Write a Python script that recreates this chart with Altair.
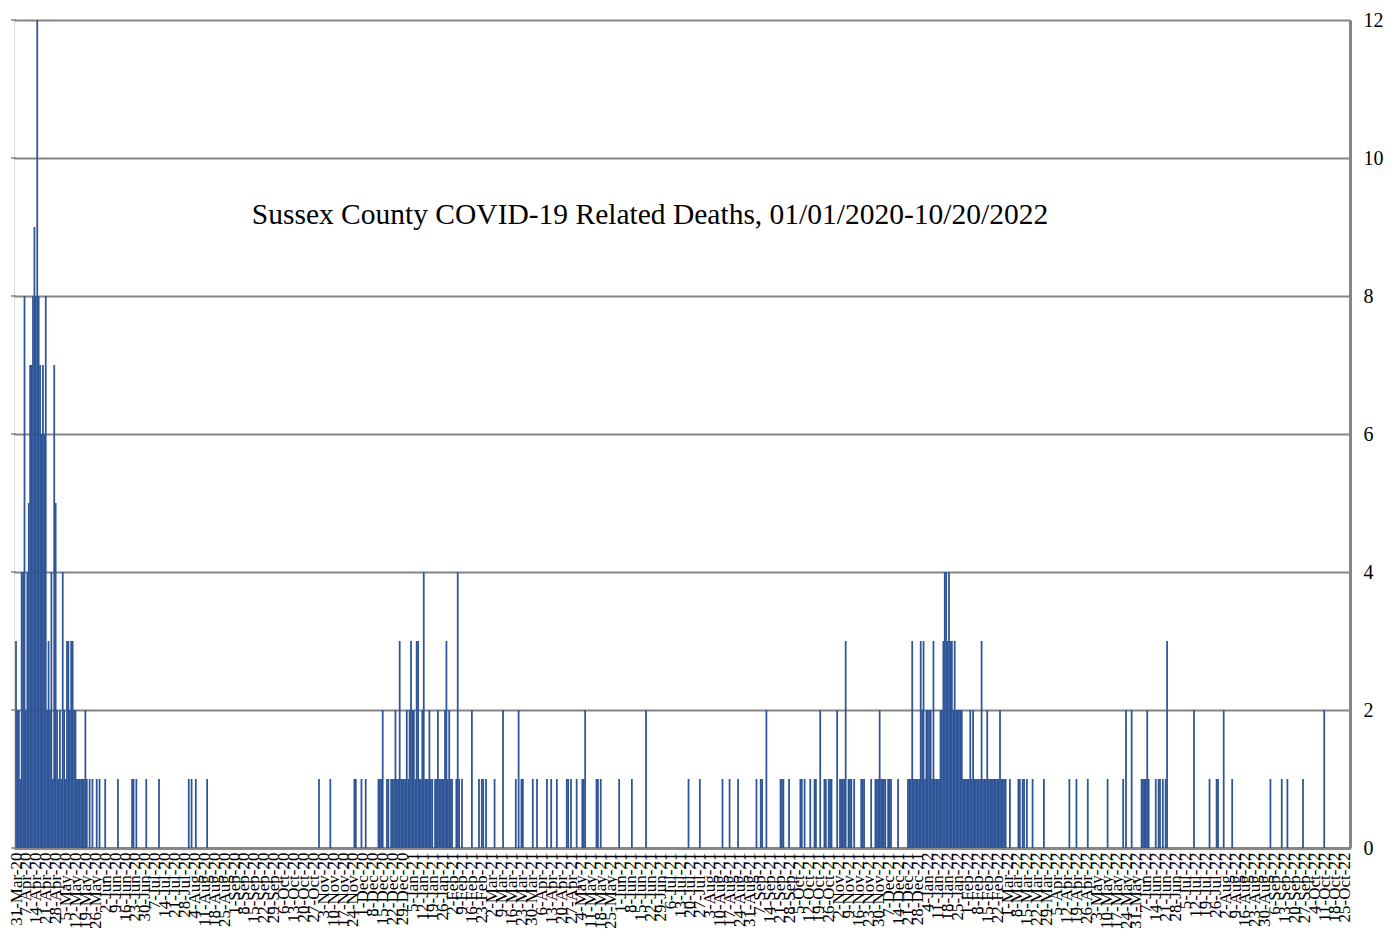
import altair as alt
import pandas as pd

# ---- data (daily deaths) ----
start_date = "2020-03-31"
n_days = 934  # 31-Mar-20 .. 20-Oct-22

# consecutive days starting 31-Mar-20
early_deaths = [3, 2, 2, 1, 4, 4, 8, 2, 4, 5,
                7, 7, 8, 9, 8, 12, 8, 7, 6, 7,
                6, 8, 2, 3, 2, 4, 1, 7, 5, 2,
                1, 2, 1, 4, 2, 1, 3, 3, 2, 3,
                3, 2, 2, 1, 1, 1, 1, 1, 1, 2,
                1, 0, 1, 0, 1, 0, 0, 1, 0, 1,
                0, 0, 0, 1]

# (day offset from 31-Mar-20, deaths) for later non-zero days
later_spikes = [
    (72, 1), (82, 1), (83, 1), (85, 1), (92, 1), (101, 1), (122, 1), (124, 1), (127, 1), (135, 1),
    (214, 1), (222, 1), (239, 1), (240, 1), (244, 1), (247, 1),
    (256, 1), (257, 1), (258, 1), (259, 2), (262, 1), (263, 1), (265, 1), (266, 1), (267, 1), (268, 2),
    (269, 1), (270, 1), (271, 3), (272, 1), (273, 1), (274, 1),
    (275, 1), (276, 2), (277, 1), (278, 2), (279, 3), (280, 2), (281, 2), (282, 1), (283, 3), (284, 3),
    (285, 1), (286, 1), (287, 2), (288, 4), (289, 1), (290, 1), (291, 1), (292, 2), (293, 1), (294, 1),
    (296, 1), (297, 1), (298, 2), (299, 1), (300, 1), (301, 1), (302, 1), (303, 2), (304, 3), (305, 1),
    (306, 2), (307, 1), (308, 1), (311, 1), (312, 4), (313, 1), (315, 1),
    (322, 2), (327, 1), (329, 1), (330, 1), (332, 1), (338, 1), (344, 2),
    (353, 1), (355, 2), (357, 1), (358, 1), (365, 1), (368, 1), (375, 1), (378, 1), (382, 1),
    (389, 1), (390, 1), (392, 1), (396, 1), (400, 1), (401, 1), (402, 2), (410, 1), (411, 1), (413, 1),
    (426, 1), (435, 1), (445, 2), (475, 1), (483, 1), (499, 1), (504, 1), (510, 1), (523, 1),
    (526, 1), (527, 1), (530, 2), (540, 1), (541, 1), (542, 1), (546, 1), (554, 1), (555, 1), (557, 1),
    (561, 1), (564, 1), (565, 1), (568, 2), (571, 1), (572, 1), (574, 1), (575, 1), (576, 1), (580, 2),
    (582, 1), (583, 1), (584, 1), (585, 1), (586, 3), (588, 1), (589, 1), (590, 1), (592, 1),
    (597, 1), (598, 1), (599, 1), (604, 1), (607, 1), (608, 1), (609, 1), (610, 2), (611, 1), (612, 1),
    (613, 1), (614, 1), (616, 1), (617, 1), (618, 1), (623, 1),
    (630, 1), (631, 1), (632, 1), (633, 3), (634, 1), (635, 1), (636, 1), (637, 1), (638, 1), (639, 3),
    (640, 2), (641, 3), (642, 1), (643, 2), (644, 2), (645, 2), (646, 2), (647, 1), (648, 3), (649, 1),
    (650, 1), (651, 1), (652, 1), (653, 2), (654, 2), (655, 3), (656, 4), (657, 4), (658, 3), (659, 4),
    (660, 3), (661, 3), (662, 2), (663, 3), (664, 2), (665, 2), (666, 2), (667, 2), (668, 2), (669, 1),
    (670, 1), (671, 1), (672, 1), (673, 1), (674, 2), (675, 1), (676, 2), (677, 1), (678, 1), (679, 1),
    (680, 1), (681, 1), (682, 3), (683, 1), (684, 1), (685, 1), (686, 2), (687, 1), (688, 1), (689, 1),
    (690, 1), (691, 1), (692, 1), (693, 1), (694, 1), (695, 2), (696, 1), (697, 1), (698, 1), (699, 1),
    (702, 1), (708, 1), (709, 1), (711, 1), (712, 1), (714, 1), (718, 1), (726, 1), (744, 1), (749, 1),
    (757, 1), (771, 1), (782, 1), (784, 2), (788, 2), (795, 1), (796, 1), (797, 1), (798, 1), (799, 2),
    (800, 1), (805, 1), (807, 1), (808, 1), (810, 1), (812, 1), (813, 3), (832, 2), (843, 1), (848, 1),
    (849, 1), (853, 2), (859, 1), (886, 1), (894, 1), (898, 1), (909, 1), (924, 2),
]

y_ticks = [0, 2, 4, 6, 8, 10, 12]
title_text = "Sussex County COVID-19 Related Deaths, 01/01/2020-10/20/2022"

# ---- build table ----
values = [0] * n_days
for i, v in enumerate(early_deaths):
    values[i] = v
for d, v in later_spikes:
    values[d] = v
dates = pd.date_range(start_date, periods=n_days, freq="D")
df = pd.DataFrame({
    "date": dates.strftime("%Y-%m-%d"),
    "start": (dates - pd.Timedelta(hours=15)).strftime("%Y-%m-%dT%H:%M:%SZ"),
    "end": (dates + pd.Timedelta(hours=15)).strftime("%Y-%m-%dT%H:%M:%SZ"),
    "deaths": values,
})
df = df[df["deaths"] > 0]

tick_dates = pd.date_range("2020-03-31", "2022-10-25", freq="7D")
tick_values = [int(t.value // 10**6) for t in tick_dates]
x_domain = [int(pd.Timestamp("2020-03-29 14:00").value // 10**6),
            int(pd.Timestamp("2022-10-29 05:00").value // 10**6)]

GRID = "#868686"
FONT = "Liberation Serif"

y_scale = alt.Scale(domain=[0, 12], nice=False)
y_axis = alt.Axis(orient="right", values=y_ticks, format="d", grid=True,
                  gridColor=GRID, gridWidth=2, domainColor=GRID, domainWidth=3,
                  ticks=False, labelPadding=13, labelFont=FONT, labelFontSize=20,
                  labelColor="black", title=None)

bars = alt.Chart(df).mark_bar(color="#2e5597", orient="vertical").encode(
    x=alt.X("start:T", scale=alt.Scale(type="utc", domain=x_domain, padding=0, nice=False),
            axis=alt.Axis(values=tick_values, format="%-d-%b-%y", labelAngle=270,
                          labelOverlap=False, labelFlush=False, labelBound=False,
                          ticks=False, grid=False, domainColor=GRID, domainWidth=3,
                          labelFont=FONT, labelFontSize=17, labelColor="black",
                          labelPadding=4, title=None)),
    x2="end:T",
    y=alt.Y("deaths:Q", scale=y_scale, axis=y_axis),
    y2=alt.datum(0),
)

left_ticks = alt.Chart(pd.DataFrame({"v": y_ticks})).mark_rule(color=GRID, strokeWidth=1.5).encode(
    y=alt.Y("v:Q", scale=y_scale, axis=y_axis),
    x=alt.value(-3),
    x2=alt.value(2),
)

title = alt.Chart(pd.DataFrame({"t": [title_text]})).mark_text(
    font=FONT, fontSize=29.5, color="black", align="center", baseline="middle"
).encode(text="t:N", x=alt.value(636), y=alt.value(195))

chart = alt.layer(bars, left_ticks, title).properties(
    width=1336, height=828,
    autosize=alt.AutoSizeParams(type="none"),
    padding={"left": 6, "top": 12, "right": 37, "bottom": 80},
).configure_view(stroke=None).configure(background="white")

chart.save("out.html", embed_options={"renderer": "svg", "actions": False})
